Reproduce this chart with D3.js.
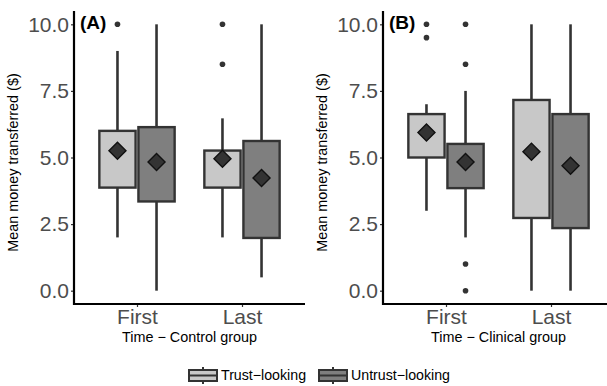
<!DOCTYPE html>
<html>
<head>
<meta charset="utf-8">
<script src="https://cdn.jsdelivr.net/npm/d3@7"></script>
<style>
  body { margin: 0; background: #fff; }
  svg text { font-family: "Liberation Sans", Arial, sans-serif; }
</style>
</head>
<body>
<div id="chart"></div>
<script>
// categories
const times = ["First", "Last"];
const looks = ["Trust\u2212looking", "Untrust\u2212looking"];
const yTicks = [0, 2.5, 5, 7.5, 10];

// box stats: lo whisker, q1, q3, hi whisker, mean, outliers
const controlStats = [
  { time: "First", look: 0, lo: 2, q1: 3.87, q3: 6.0, hi: 9.0, mean: 5.25, out: [10] },
  { time: "First", look: 1, lo: 0, q1: 3.35, q3: 6.14, hi: 10, mean: 4.83, out: [] },
  { time: "Last", look: 0, lo: 2, q1: 3.87, q3: 5.26, hi: 6.47, mean: 4.95, out: [8.5, 10] },
  { time: "Last", look: 1, lo: 0.5, q1: 1.98, q3: 5.62, hi: 10, mean: 4.23, out: [] }
];
const clinicalStats = [
  { time: "First", look: 0, lo: 3, q1: 5.0, q3: 6.63, hi: 7.0, mean: 5.94, out: [9.5, 10] },
  { time: "First", look: 1, lo: 2, q1: 3.85, q3: 5.51, hi: 7.5, mean: 4.83, out: [0, 1, 8.5, 10] },
  { time: "Last", look: 0, lo: 0, q1: 2.73, q3: 7.16, hi: 10, mean: 5.22, out: [] },
  { time: "Last", look: 1, lo: 0, q1: 2.35, q3: 6.63, hi: 10, mean: 4.69, out: [] }
];

const panels = [
  { tag: "(A)", title: "Time \u2212 Control group", stats: controlStats, left: 74 },
  { tag: "(B)", title: "Time \u2212 Clinical group", stats: clinicalStats, left: 383 }
];

const W = 607, H = 386;
const panelW = 231, plotTop = 11, plotBottom = 304;
const fills = ["#c8c8c8", "#7f7f7f"];
const ink = "#333333";

const svg = d3.select("#chart").append("svg").attr("width", W).attr("height", H);

const y = d3.scaleLinear().domain([-0.5, 10.5]).range([plotBottom, plotTop]);

panels.forEach(p => {
  const g = svg.append("g");
  const x = d3.scalePoint().domain(times).range([p.left, p.left + panelW]).padding(0.6);
  const step = x.step();
  const dodge = [-0.186 * step, 0.186 * step];
  const bw = 0.345 * step;

  // whiskers
  p.stats.forEach(d => {
    const cx = x(d.time) + dodge[d.look];
    g.append("line").attr("x1", cx).attr("x2", cx).attr("y1", y(d.lo)).attr("y2", y(d.q1))
      .attr("stroke", ink).attr("stroke-width", 2.6);
    g.append("line").attr("x1", cx).attr("x2", cx).attr("y1", y(d.q3)).attr("y2", y(d.hi))
      .attr("stroke", ink).attr("stroke-width", 2.6);
  });
  // boxes
  p.stats.forEach(d => {
    const cx = x(d.time) + dodge[d.look];
    g.append("rect").attr("x", cx - bw / 2).attr("y", y(d.q3))
      .attr("width", bw).attr("height", y(d.q1) - y(d.q3))
      .attr("fill", fills[d.look]).attr("stroke", ink).attr("stroke-width", 2.4);
  });
  // outliers
  p.stats.forEach(d => {
    const cx = x(d.time) + dodge[d.look];
    d.out.forEach(v => {
      g.append("circle").attr("cx", cx).attr("cy", y(v)).attr("r", 2.8).attr("fill", ink);
    });
  });
  // mean diamonds
  const diamond = d3.symbol().type(d3.symbolSquare).size(145);
  p.stats.forEach(d => {
    const cx = x(d.time) + dodge[d.look];
    g.append("path").attr("d", diamond())
      .attr("transform", `translate(${cx},${y(d.mean)}) rotate(45)`)
      .attr("fill", ink).attr("stroke", "#111").attr("stroke-width", 1.4);
  });

  // axes
  const ya = g.append("g").attr("transform", `translate(${p.left},0)`)
    .call(d3.axisLeft(y).tickValues(yTicks).tickFormat(d3.format(".1f")).tickSize(3).tickPadding(2));
  ya.select(".domain").remove();
  ya.selectAll(".tick line").attr("stroke", ink).attr("stroke-width", 1.2);
  ya.selectAll(".tick text").attr("fill", "#4d4d4d").style("font-size", "21px");

  const xa = g.append("g").attr("transform", `translate(0,${plotBottom})`)
    .call(d3.axisBottom(x).tickSize(3).tickPadding(2));
  xa.select(".domain").remove();
  xa.selectAll(".tick line").attr("stroke", ink).attr("stroke-width", 1.2);
  xa.selectAll(".tick text").attr("fill", "#4d4d4d").style("font-size", "21px");

  g.append("line").attr("x1", p.left).attr("x2", p.left).attr("y1", plotTop).attr("y2", plotBottom + 1)
    .attr("stroke", "#000").attr("stroke-width", 2.2);
  g.append("line").attr("x1", p.left - 1).attr("x2", p.left + panelW).attr("y1", plotBottom).attr("y2", plotBottom)
    .attr("stroke", "#000").attr("stroke-width", 2.2);

  // titles
  g.append("text").attr("x", p.left + 6).attr("y", 29).text(p.tag)
    .style("font-size", "19px").style("font-weight", "bold");
  g.append("text").attr("x", p.left + panelW / 2).attr("y", 342).attr("text-anchor", "middle")
    .style("font-size", "14.4px").text(p.title);
  g.append("text").attr("transform", `translate(${p.left - 56},${(plotTop + plotBottom) / 2 + 5}) rotate(-90)`)
    .attr("text-anchor", "middle").style("font-size", "14.4px").text("Mean money transferred ($)");
});

// legend
const lg = svg.append("g");
const legendX = [188, 318];
looks.forEach((name, i) => {
  const kx = legendX[i], ky = 367;
  const cx = kx + 15;
  lg.append("line").attr("x1", cx).attr("x2", cx).attr("y1", ky).attr("y2", ky + 17)
    .attr("stroke", ink).attr("stroke-width", 2);
  lg.append("rect").attr("x", kx + 1).attr("y", ky + 3).attr("width", 28).attr("height", 11)
    .attr("fill", fills[i]).attr("stroke", ink).attr("stroke-width", 2);
  lg.append("line").attr("x1", kx + 1).attr("x2", kx + 29).attr("y1", ky + 8.5).attr("y2", ky + 8.5)
    .attr("stroke", ink).attr("stroke-width", 2);
  lg.append("text").attr("x", kx + 33).attr("y", 380).style("font-size", "14.2px").text(name);
});
</script>
</body>
</html>
